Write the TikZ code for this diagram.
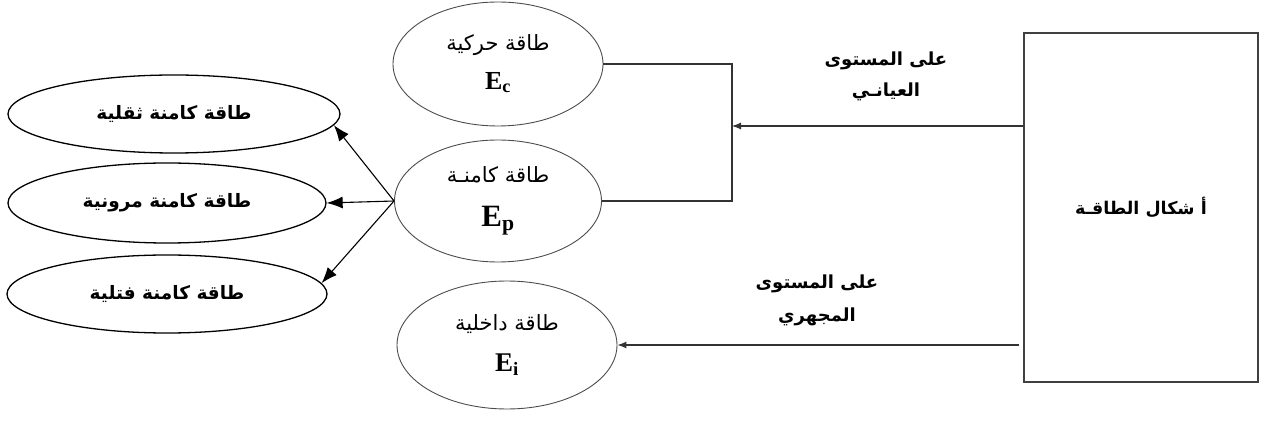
\documentclass[tikz,border=0pt]{standalone}
\usepackage{fontspec}
\usetikzlibrary{shapes.geometric,arrows.meta}
\TeXXeTstate=1
\newfontfamily\arabicfont[Script=Arabic]{DejaVu Sans}
\newfontfamily\romfont{Liberation Serif}

\def\punkt#1#2{ ({#1},{-(#2)}) }
\def\ar#1{{\arabicfont\beginR #1\endR}}
\def\groesse#1{\fontsize{#1}{#1}\selectfont}

\tikzset{
	kreis/.style={draw=black!70,line width=0.9pt,ellipse,inner sep=0pt,align=center,font=\groesse{21}},
	form/.style={draw,line width=1.3pt,ellipse,inner sep=0pt,font=\bfseries\groesse{18.5}},
	ebene/.style={align=center,inner sep=0pt,font=\bfseries\groesse{18}},
	pfeil/.style={-{Latex[length=9pt,width=7pt]},line width=1.1pt,draw=black!80},
	grosspfeil/.style={-{Latex[length=16pt,width=12pt]},line width=1.1pt},
}

\begin{document}
\begin{tikzpicture}[x=1pt,y=1pt]
\useasboundingbox \punkt{0}{0} rectangle \punkt{1261}{430};
\node[draw=black!75,line width=1.3pt,minimum width=234pt,minimum height=349pt,inner sep=0pt,font=\bfseries\groesse{17.5}] (formen) at \punkt{1141}{207.5} {\ar{أ شكال الطاقـة}};
\node[kreis,minimum width=210pt,minimum height=124pt] (kin) at \punkt{498}{64}
	{\ar{طاقة حركية}\\[15pt] {\romfont\bfseries\groesse{26}E\textsubscript{c}}};
\node[kreis,minimum width=207pt,minimum height=122pt] (pot) at \punkt{498}{201}
	{\ar{طاقة كامنـة}\\[23pt] {\romfont\bfseries\groesse{31}E\textsubscript{p}}};
\node[kreis,minimum width=220pt,minimum height=128pt] (inn) at \punkt{507}{345}
	{\ar{طاقة داخلية}\\[20pt] {\romfont\bfseries\groesse{27}E\textsubscript{i}}};
\node[form,minimum width=332pt,minimum height=78pt] (schwer) at \punkt{174}{114} {\ar{طاقة كامنة ثقلية}};
\node[form,minimum width=318pt,minimum height=80pt] (elast) at \punkt{167}{203} {\ar{طاقة كامنة مرونية}};
\node[form,minimum width=320pt,minimum height=78pt] (torsion) at \punkt{167}{294} {\ar{طاقة كامنة فتلية}};
\node[ebene] (ebene1) at \punkt{886}{76} {\ar{على المستوى}\\[12pt] \ar{العيانـي}};
\node[ebene] (ebene2) at \punkt{817}{300} {\ar{على المستوى}\\[14pt] \ar{المجهري}};
\path \punkt{732}{126} coordinate (knoten);
\draw[pfeil] (formen.west |- knoten) -- (knoten);
\draw[line width=1.1pt,draw=black!80] (kin.east) -| (knoten) |- (pot.east);
\draw[pfeil,shorten <=4pt] (formen.west |- inn.east) -- (inn.east);
\draw[grosspfeil] (pot.west) -- (schwer.-4);
\draw[grosspfeil] (pot.west) -- (elast.east);
\draw[grosspfeil] (pot.west) -- (torsion.4);
\end{tikzpicture}
\end{document}
